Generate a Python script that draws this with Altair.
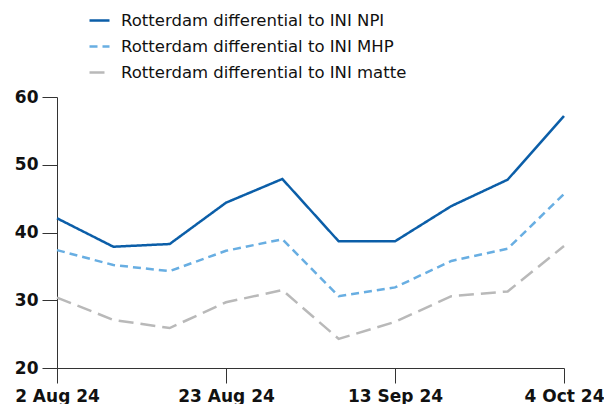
import altair as alt
import pandas as pd

dates = ["2024-08-02", "2024-08-09", "2024-08-16", "2024-08-23", "2024-08-30",
         "2024-09-06", "2024-09-13", "2024-09-20", "2024-09-27", "2024-10-04"]
npi = [42.1, 37.9, 38.3, 44.4, 47.9, 38.7, 38.7, 43.9, 47.8, 57.2]
mhp = [37.4, 35.2, 34.3, 37.3, 39.0, 30.6, 31.9, 35.8, 37.6, 45.7]
matte = [30.4, 27.1, 25.9, 29.7, 31.5, 24.3, 26.8, 30.6, 31.3, 38.0]
series_names = ["Rotterdam differential to INI NPI",
                "Rotterdam differential to INI MHP",
                "Rotterdam differential to INI matte"]
tick_dates = [(2024, 8, 2), (2024, 8, 23), (2024, 9, 13), (2024, 10, 4)]
y_ticks = [20, 30, 40, 50, 60]

rows = []
for name, vals in zip(series_names, [npi, mhp, matte]):
    for d, v in zip(dates, vals):
        rows.append({"date": d, "value": v, "series": name})
df = pd.DataFrame(rows)

colors = ["#0b5ea8", "#68aee2", "#b9b9b9"]
dashes = [[1, 0], [8, 5], [15, 7]]
font = "DejaVu Sans"

chart = alt.Chart(df).mark_line(strokeWidth=2.5).encode(
    x=alt.X("date:T",
            scale=alt.Scale(type="utc", domain=[alt.DateTime(year=2024, month=8, date=2, utc=True),
                                                alt.DateTime(year=2024, month=10, date=4, utc=True)]),
            axis=alt.Axis(values=[alt.DateTime(year=y, month=m, date=d, utc=True) for y, m, d in tick_dates],
                          labelExpr="utcFormat(datum.value, '%-d %b %y')", title=None, grid=False,
                          tickSize=15, labelPadding=5, labelFontSize=17, labelFontWeight="bold",
                          labelColor="#111", domainColor="#333", tickColor="#333",
                          labelFont=font, labelFlush=False)),
    y=alt.Y("value:Q", scale=alt.Scale(domain=[20, 60], nice=False, zero=False),
            axis=alt.Axis(values=y_ticks, title=None, grid=False, tickSize=15, labelPadding=4,
                          labelFontSize=17, labelFontWeight="bold", labelColor="#111",
                          domainColor="#333", tickColor="#333", labelFont=font)),
    color=alt.Color("series:N", scale=alt.Scale(domain=series_names, range=colors),
                    legend=alt.Legend(title=None, orient="none", legendX=31, legendY=-88,
                                      symbolType="stroke", symbolSize=400, symbolStrokeWidth=2.5,
                                      labelFontSize=16.5, labelFont=font, labelColor="#111",
                                      labelLimit=500, rowPadding=6, padding=0, labelOffset=10)),
    strokeDash=alt.StrokeDash("series:N", scale=alt.Scale(domain=series_names, range=dashes),
                              legend=None),
).properties(
    width=507, height=271,
    background="white",
    autosize=alt.AutoSizeParams(type="none"),
    padding={"left": 49, "top": 89, "right": 40, "bottom": 36},
).configure_view(stroke=None, strokeWidth=0)

chart.save("out.html", embed_options={"renderer": "svg", "actions": False})
